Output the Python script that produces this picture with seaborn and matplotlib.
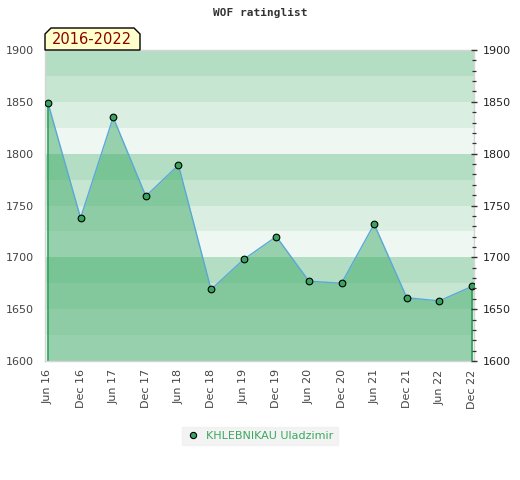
import matplotlib
matplotlib.use("Agg")
import matplotlib.pyplot as plt
from matplotlib.patches import Polygon
from matplotlib.lines import Line2D
import seaborn as sns
import pandas as pd
import numpy as np

periods = ["Jun 16", "Dec 16", "Jun 17", "Dec 17", "Jun 18", "Dec 18", "Jun 19",
           "Dec 19", "Jun 20", "Dec 20", "Jun 21", "Dec 21", "Jun 22", "Dec 22"]
ratings = [1849, 1738, 1835, 1759, 1789, 1669, 1698, 1720, 1677, 1675, 1732, 1661, 1658, 1672]
player = "KHLEBNIKAU Uladzimir"
title = "WOF ratinglist"
span_label = "2016-2022"

sns.set_theme(style="white")
plt.rcParams['font.family'] = ['DejaVu Sans']

df = pd.DataFrame({"idx": np.arange(len(periods)), "rating": ratings, "period": periods})

fig = plt.figure(figsize=(5.2, 4.8), dpi=100)
ax = fig.add_axes([45/520, 1 - 361/480, 429/520, 311/480])

ymin, ymax = 1600, 1900
band_cols = ["#b3dec4", "#c6e6d2", "#dbeee2", "#eef7f1"]
for i, lo in enumerate(range(ymax, ymin, -25)):
    ax.axhspan(lo - 25, lo, color=band_cols[i % 4], lw=0, zorder=0)

fill_col = (64/255, 171/255, 104/255)
ax.fill_between(df["idx"], df["rating"], ymin, color=fill_col, alpha=0.5, lw=0, zorder=1)
ax.vlines([df["idx"].iloc[0], df["idx"].iloc[-1]], ymin, [df["rating"].iloc[0], df["rating"].iloc[-1]],
          color="#2ea05a", lw=1.2, zorder=2)

sns.lineplot(data=df, x="idx", y="rating", ax=ax, color="#5aa8d8", lw=1.0, zorder=3,
             marker="o", markersize=4.8, markerfacecolor="#3aa35f", markeredgecolor="black",
             markeredgewidth=0.8)

ax.set_xlim(-0.09, 13.06)
ax.set_ylim(ymin, ymax)
ax.set_xticks(df["idx"])
ax.set_xticklabels(periods, rotation=90, fontsize=8, color="#444444")
ax.set_yticks(range(ymin, ymax + 1, 50))
ax.tick_params(axis="y", labelsize=8, labelcolor="#444444", length=0, pad=8)
ax.tick_params(axis="x", length=0, pad=6)
ax.set_xlabel("")
ax.set_ylabel("")
for s in ax.spines.values():
    s.set_color("#d4d4d4")
    s.set_linewidth(1)

ax2 = ax.twinx()
ax2.set_ylim(ymin, ymax)
ax2.set_yticks(range(ymin, ymax + 1, 50))
ax2.set_yticks(range(ymin, ymax + 1, 10), minor=True)
ax2.tick_params(axis="y", which="major", direction="inout", length=4, width=1, color="#333333",
                labelsize=8, labelcolor="#222222", pad=4)
ax2.tick_params(axis="y", which="minor", direction="inout", length=3, width=0.9, color="#333333")
ax2.tick_params(axis="y", which="minor", right=True)
for s in ax2.spines.values():
    s.set_visible(False)
ax2.grid(False)

fig.text(260/520, 1 - 13/480, title, ha="center", va="center", fontsize=8,
         family="DejaVu Sans Mono", fontweight="bold", color="#333333")

# year-span label box with cut top corners
x0, x1, yb, yt, c = 45, 140, 50, 28, 6
pts = [(x0, yb), (x0, yt + c), (x0 + c, yt), (x1 - c, yt), (x1, yt + c), (x1, yb)]
pts = [(px / 520, 1 - py / 480) for px, py in pts]
fig.patches.append(Polygon(pts, closed=True, transform=fig.transFigure, facecolor="#ffffcc",
                           edgecolor="black", lw=1, zorder=5))
fig.text(92/520, 1 - 40/480, span_label, ha="center", va="center", fontsize=10.5,
         color="#8b0000", zorder=6)

handle = Line2D([], [], ls="none", marker="o", markersize=4.5, markerfacecolor="#3aa35f",
                markeredgecolor="black", markeredgewidth=0.8)
leg = fig.legend([handle], [player], loc="center", bbox_to_anchor=(260/520, 1 - 436/480),
                 frameon=True, fontsize=8, handletextpad=0.6, borderpad=0.35,
                 handlelength=1.2, fancybox=False)
leg.get_frame().set_facecolor("#f0f0f0")
leg.get_frame().set_edgecolor("#f0f0f0")
for t in leg.get_texts():
    t.set_color("#3aa860")

fig.savefig("out.png", dpi=100)
